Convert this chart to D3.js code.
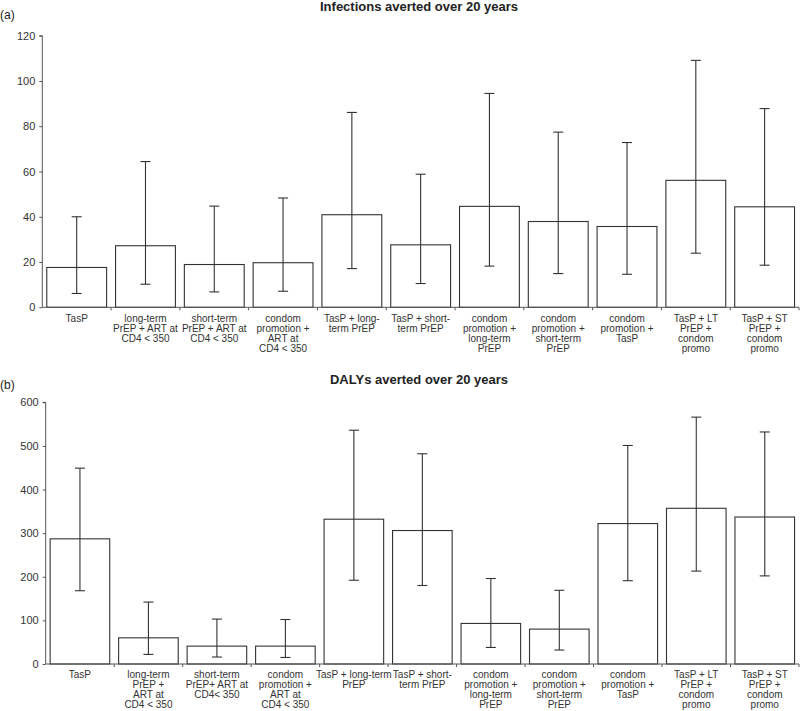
<!DOCTYPE html>
<html>
<head>
<meta charset="utf-8">
<script src="https://cdn.jsdelivr.net/npm/d3@7"></script>
<style>
  html, body { margin: 0; padding: 0; background: #fff; }
  svg { display: block; }
</style>
</head>
<body>
<svg id="chart" width="800" height="711"></svg>
<script>
// ---- Data ----
const categoriesA = [
  "TasP",
  "long-term\nPrEP + ART at\nCD4 < 350",
  "short-term\nPrEP + ART at\nCD4 < 350",
  "condom\npromotion +\nART at\nCD4 < 350",
  "TasP + long-\nterm PrEP",
  "TasP + short-\nterm PrEP",
  "condom\npromotion +\nlong-term\nPrEP",
  "condom\npromotion +\nshort-term\nPrEP",
  "condom\npromotion +\nTasP",
  "TasP + LT\nPrEP +\ncondom\npromo",
  "TasP + ST\nPrEP +\ncondom\npromo"
];
const categoriesB = [
  "TasP",
  "long-term\nPrEP +\nART at\nCD4 < 350",
  "short-term\nPrEP+ ART at\nCD4< 350",
  "condom\npromotion +\nART at\nCD4 < 350",
  "TasP + long-term\nPrEP",
  "TasP + short-\nterm PrEP",
  "condom\npromotion +\nlong-term\nPrEP",
  "condom\npromotion +\nshort-term\nPrEP",
  "condom\npromotion +\nTasP",
  "TasP + LT\nPrEP +\ncondom\npromo",
  "TasP + ST\nPrEP +\ncondom\npromo"
];
const infectionsMean = [17.6, 27.2, 18.9, 19.7, 40.9, 27.6, 44.6, 37.9, 35.7, 56.1, 44.4];
const infectionsLow  = [6.1, 10.2, 6.8, 7.1, 17.1, 10.5, 18.2, 14.9, 14.6, 23.9, 18.6];
const infectionsHigh = [40.0, 64.4, 44.7, 48.3, 86.1, 58.8, 94.5, 77.4, 72.8, 109.1, 87.8];
const dalysMean = [287, 60, 41, 41, 332, 306, 93, 80, 322, 357, 337];
const dalysLow  = [168, 22, 16, 15, 192, 180, 38, 32, 191, 213, 202];
const dalysHigh = [449, 142, 103, 102, 536, 482, 196, 169, 501, 566, 532];
const ticksA = [0, 20, 40, 60, 80, 100, 120];
const ticksB = [0, 100, 200, 300, 400, 500, 600];

// ---- Drawing ----
const svg = d3.select("#chart");
const ink = "#333";
const font = "'Liberation Sans', Arial, Helvetica, sans-serif";
const narrow = "'Liberation Sans Narrow', 'Liberation Sans', Arial, sans-serif";

function panel(opts) {
  const {cats, mean, low, high, ticks, x0, x1, yBase, yTop, title, titleY, tag, tagY, labelOffset} = opts;
  const idx = cats.map((d, i) => i);
  const x = d3.scaleBand().domain(idx).range([x0, x1]).padding(0);
  const y = d3.scaleLinear().domain([ticks[0], ticks[ticks.length - 1]]).range([yBase, yTop]);
  const g = svg.append("g");

  // y axis
  const yAxis = d3.axisLeft(y).tickValues(ticks).tickSize(3).tickPadding(4).tickFormat(d3.format("d"));
  const ya = g.append("g").attr("transform", `translate(${x0},0)`).call(yAxis);
  ya.select(".domain").attr("stroke", "#555").attr("d", `M-3,${yTop}H0V${yBase}`);
  ya.selectAll(".tick line").attr("stroke", "#555");
  ya.selectAll("text").attr("font-family", font).attr("font-size", 11).attr("fill", "#333");

  // bars
  const bw = x.bandwidth() * 0.87;
  const off = (x.bandwidth() - bw) / 2;
  g.selectAll("rect.bar").data(idx).join("rect")
    .attr("x", i => x(i) + off)
    .attr("y", i => y(mean[i]))
    .attr("width", bw)
    .attr("height", i => yBase - y(mean[i]))
    .attr("fill", "#fff").attr("stroke", ink).attr("stroke-width", 1.1);

  // error bars
  const cx = i => x(i) + x.bandwidth() / 2;
  const eb = g.selectAll("g.err").data(idx).join("g");
  eb.append("line").attr("x1", cx).attr("x2", cx)
    .attr("y1", i => y(low[i])).attr("y2", i => y(high[i]))
    .attr("stroke", ink).attr("stroke-width", 1.1);
  [low, high].forEach(arr => {
    eb.append("line").attr("x1", i => cx(i) - 5).attr("x2", i => cx(i) + 5)
      .attr("y1", i => y(arr[i])).attr("y2", i => y(arr[i]))
      .attr("stroke", ink).attr("stroke-width", 1.1);
  });

  // x axis
  g.append("line").attr("x1", x0).attr("x2", x1).attr("y1", yBase).attr("y2", yBase)
    .attr("stroke", "#555").attr("stroke-width", 1);
  g.selectAll("line.xt").data(idx).join("line")
    .attr("x1", i => x(i) + x.bandwidth()).attr("x2", i => x(i) + x.bandwidth())
    .attr("y1", yBase).attr("y2", yBase + 3).attr("stroke", "#555");

  // category labels
  const lab = g.selectAll("text.cat").data(idx).join("text")
    .attr("text-anchor", "middle")
    .attr("font-family", narrow).attr("font-size", 10).attr("fill", "#333");
  lab.each(function(i) {
    const lines = cats[i].split("\n");
    d3.select(this).selectAll("tspan").data(lines).join("tspan")
      .attr("x", cx(i)).attr("y", (d, k) => yBase + labelOffset + k * 10)
      .text(d => d);
  });

  // title and tag
  svg.append("text").attr("x", 419).attr("y", titleY).attr("text-anchor", "middle")
    .attr("font-family", font).attr("font-weight", "bold").attr("font-size", 13).attr("fill", "#222")
    .text(title);
  svg.append("text").attr("x", 0).attr("y", tagY)
    .attr("font-family", font).attr("font-size", 12).attr("fill", "#222").text(tag);
}

panel({cats: categoriesA, mean: infectionsMean, low: infectionsLow, high: infectionsHigh, ticks: ticksA,
  x0: 42.3, x1: 799, yBase: 307.3, yTop: 35.7, title: "Infections averted over 20 years",
  titleY: 11, tag: "(a)", tagY: 19, labelOffset: 15});
panel({cats: categoriesB, mean: dalysMean, low: dalysLow, high: dalysHigh, ticks: ticksB,
  x0: 45.7, x1: 799, yBase: 664, yTop: 402.3, title: "DALYs averted over 20 years",
  titleY: 384, tag: "(b)", tagY: 389, labelOffset: 13.5});
</script>
</body>
</html>
